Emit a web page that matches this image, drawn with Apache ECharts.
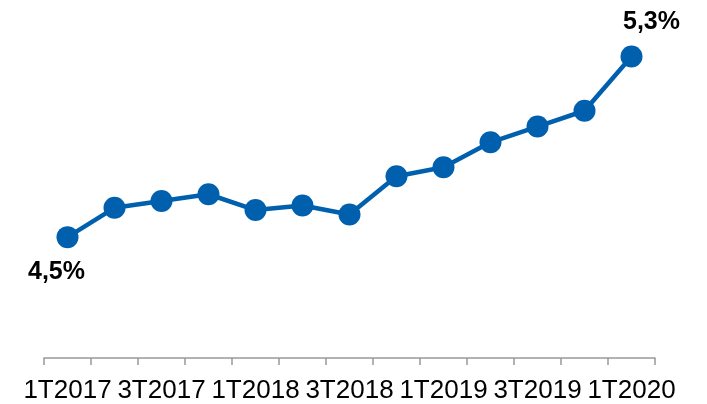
<!DOCTYPE html>
<html>
<head>
<meta charset="utf-8">
<script src="https://cdn.jsdelivr.net/npm/echarts@6/dist/echarts.min.js"></script>
<style>
  html, body { margin: 0; padding: 0; background: #fff; }
  #chart { width: 707px; height: 404px; }
</style>
</head>
<body>
<div id="chart"></div>
<script>
// trimestres
const quarters = ['1T2017', '2T2017', '3T2017', '4T2017', '1T2018', '2T2018', '3T2018',
  '4T2018', '1T2019', '2T2019', '3T2019', '4T2019', '1T2020'];
// tasa (%)
const rate = [4.5, 4.63, 4.66, 4.69, 4.62, 4.64, 4.60, 4.77, 4.81, 4.92, 4.99, 5.06, 5.3];

const blue = '#0060ae';

const chart = echarts.init(document.getElementById('chart'));

chart.setOption({
  animation: false,
  grid: {
    left: 44,
    right: 52,
    top: 34,
    bottom: 50.6
  },
  xAxis: {
    type: 'category',
    data: quarters,
    boundaryGap: true,
    offset: 8,
    axisLine: { lineStyle: { color: '#999', width: 1.5 } },
    axisTick: { show: true, interval: 0, length: 7, lineStyle: { color: '#999', width: 1.5 } },
    axisLabel: {
      interval: 1,
      margin: 20,
      color: '#000',
      fontSize: 26,
      fontFamily: 'Liberation Sans, Arial, sans-serif'
    }
  },
  yAxis: {
    type: 'value',
    min: 4.0,
    max: 5.4,
    show: false
  },
  series: [
    {
      type: 'line',
      data: rate.map(function (v, i) {
        let item = { value: v };
        if (i === 0) {
          item.label = { show: true, position: 'bottom', distance: 11, offset: [-11, 0] };
        } else if (i === rate.length - 1) {
          item.label = { show: true, position: 'top', distance: 11, offset: [20, 0] };
        }
        return item;
      }),
      symbol: 'circle',
      symbolSize: 22,
      lineStyle: { color: blue, width: 4.5 },
      itemStyle: { color: blue },
      label: {
        show: false,
        color: '#000',
        fontSize: 25,
        fontWeight: 'bold',
        fontFamily: 'Liberation Sans, Arial, sans-serif',
        formatter: function (p) {
          return p.value.toFixed(1).replace('.', ',') + '%';
        }
      }
    }
  ]
});
</script>
</body>
</html>
